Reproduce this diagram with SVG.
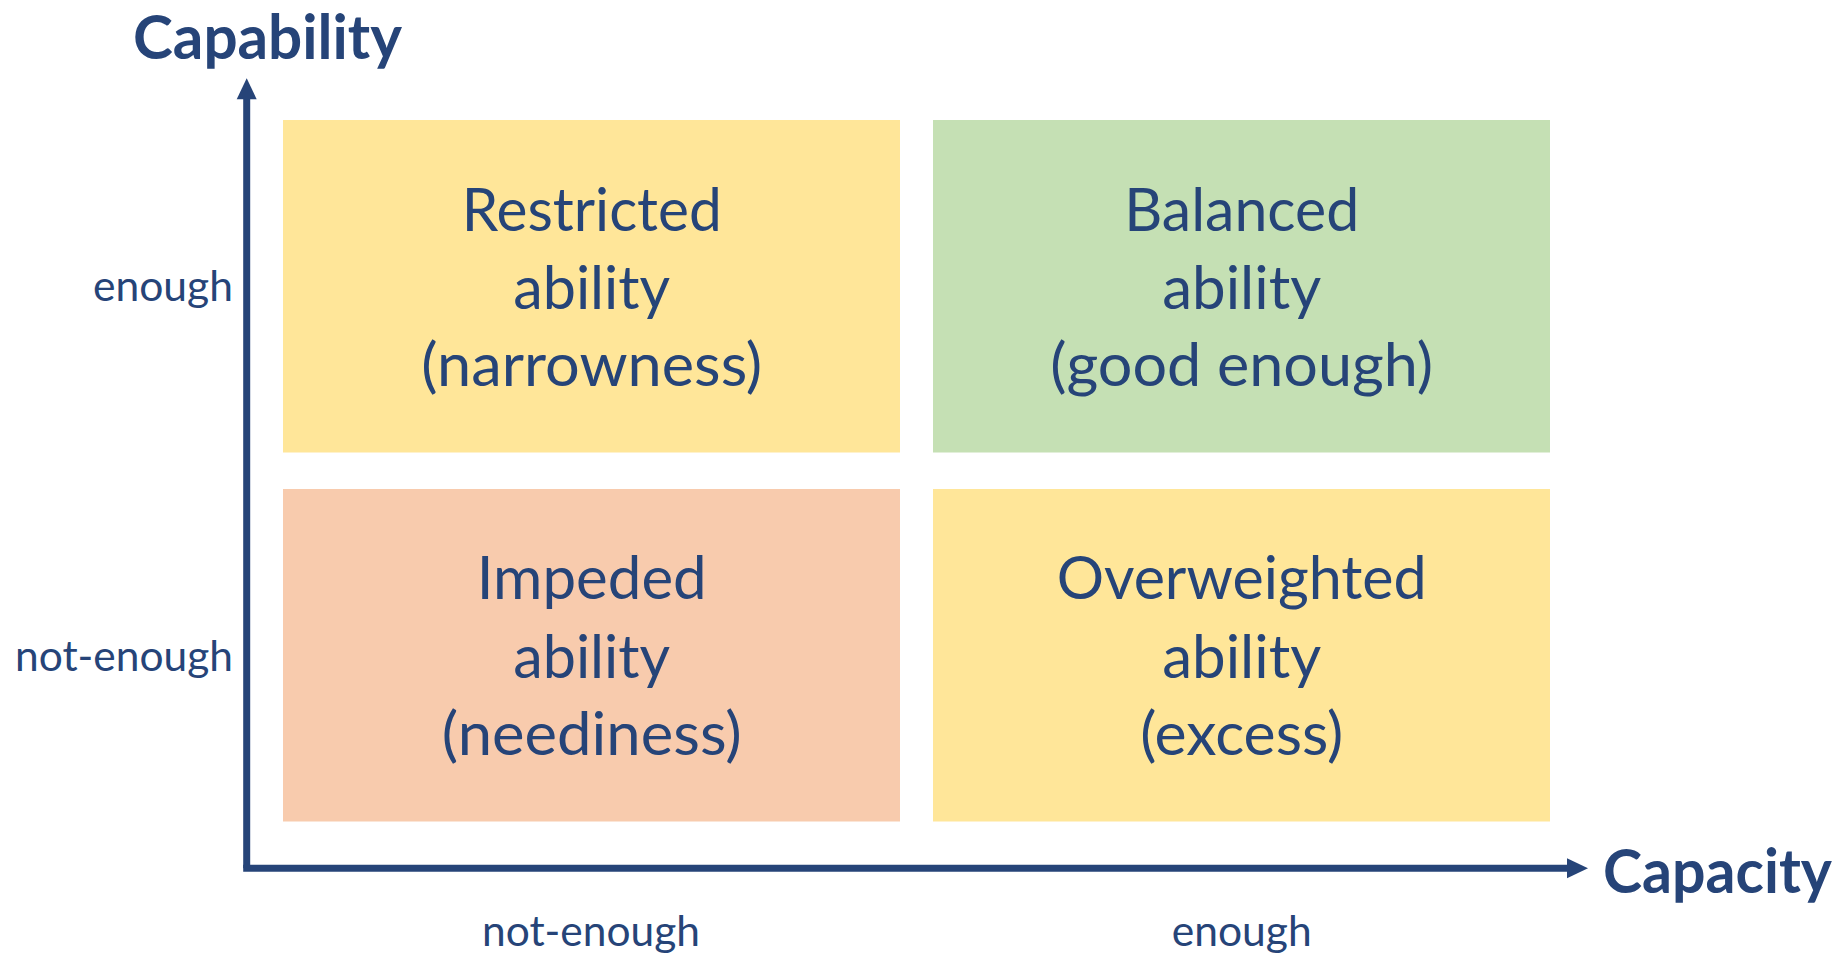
<svg xmlns="http://www.w3.org/2000/svg" width="1843" height="961" viewBox="0 0 1843 961">
<style>
.t{font-family:Lato,"Open Sans","Liberation Sans",sans-serif;fill:#264478;text-anchor:middle}
.box{font-size:60px}
.ax{font-size:43px}
.ttl{font-size:61px;font-weight:bold}
</style>
<rect width="1843" height="961" fill="#ffffff"/>
<g id="connectors">
<path d="M246.7,868.3 V98" stroke="#264478" stroke-width="7" fill="none"/>
<path d="M243.2,868.3 H1568" stroke="#264478" stroke-width="7" fill="none"/>
<polygon points="246.7,78.3 236.7,99.3 256.7,99.3" fill="#264478"/>
<polygon points="1588,868.3 1567,858.3 1567,878.3" fill="#264478"/>
</g>
<g id="title-capability"><text class="t ttl" x="267.5" y="59" textLength="269" lengthAdjust="spacingAndGlyphs">Capability</text></g>
<g id="title-capacity"><text class="t ttl" x="1717.5" y="893" textLength="229" lengthAdjust="spacingAndGlyphs">Capacity</text></g>
<g id="restricted">
<rect x="283" y="120" width="617" height="332.5" fill="#FFE699"/>
<text class="t box" x="591.7" y="231" textLength="260" lengthAdjust="spacingAndGlyphs">Restricted</text>
<text class="t box" x="591.7" y="309" textLength="157" lengthAdjust="spacingAndGlyphs">ability</text>
<text class="t box" x="591.7" y="386" textLength="341" lengthAdjust="spacingAndGlyphs">(narrowness)</text>
</g>
<g id="balanced">
<rect x="933" y="120" width="617" height="332.5" fill="#C5E0B4"/>
<text class="t box" x="1241.7" y="231" textLength="235" lengthAdjust="spacingAndGlyphs">Balanced</text>
<text class="t box" x="1241.7" y="309" textLength="159" lengthAdjust="spacingAndGlyphs">ability</text>
<text class="t box" x="1241.7" y="386" textLength="383" lengthAdjust="spacingAndGlyphs">(good enough)</text>
</g>
<g id="impeded">
<rect x="283" y="489" width="617" height="332.5" fill="#F8CBAD"/>
<text class="t box" x="591.7" y="599" textLength="230" lengthAdjust="spacingAndGlyphs">Impeded</text>
<text class="t box" x="591.7" y="678" textLength="157" lengthAdjust="spacingAndGlyphs">ability</text>
<text class="t box" x="591.7" y="755" textLength="300" lengthAdjust="spacingAndGlyphs">(neediness)</text>
</g>
<g id="overweighted">
<rect x="933" y="489" width="617" height="332.5" fill="#FFE699"/>
<text class="t box" x="1241.7" y="599" textLength="370" lengthAdjust="spacingAndGlyphs">Overweighted</text>
<text class="t box" x="1241.7" y="678" textLength="159" lengthAdjust="spacingAndGlyphs">ability</text>
<text class="t box" x="1241.7" y="755" textLength="203" lengthAdjust="spacingAndGlyphs">(excess)</text>
</g>
<g id="axis-labels">
<text class="t ax" x="163" y="301" textLength="140" lengthAdjust="spacingAndGlyphs">enough</text>
<text class="t ax" x="124" y="671" textLength="218" lengthAdjust="spacingAndGlyphs">not-enough</text>
<text class="t ax" x="591" y="946" textLength="218" lengthAdjust="spacingAndGlyphs">not-enough</text>
<text class="t ax" x="1241.7" y="946" textLength="140" lengthAdjust="spacingAndGlyphs">enough</text>
</g>
</svg>
